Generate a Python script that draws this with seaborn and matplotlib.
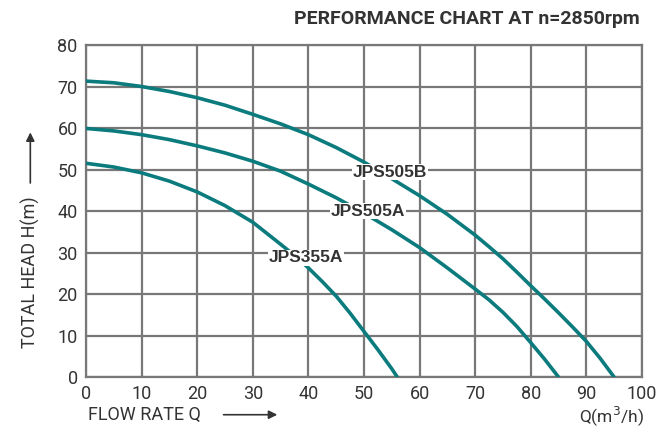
import matplotlib
matplotlib.use("Agg")
from matplotlib import pyplot as plt
import pandas as pd
import seaborn as sns

# values (Q in m3/h, H in m)
q_505b = [0, 5, 10, 15, 20, 25, 30, 35, 40, 45, 50, 55, 60, 65, 70, 72.5, 75,
          77.5, 80, 82.5, 85, 87.5, 90, 92.5, 95]
h_505b = [71.3, 70.9, 70.0, 68.8, 67.3, 65.5, 63.3, 61.0, 58.4, 55.3, 51.8, 47.8, 43.7,
          39.2, 34.2, 31.4, 28.5, 25.3, 22.0, 18.8, 15.5, 12.1, 8.6, 4.5, 0]

q_505a = [0, 5, 10, 15, 20, 25, 30, 35, 40, 45, 50, 55, 60, 65, 70, 72.5, 75,
          77.5, 80, 82.5, 85]
h_505a = [59.9, 59.3, 58.4, 57.2, 55.7, 54.0, 52.0, 49.6, 46.5, 43.2, 39.5, 35.5, 31.2,
          26.3, 21.2, 18.6, 15.6, 12.2, 8.3, 4.3, 0]

q_355a = [0, 5, 10, 15, 20, 25, 30, 35, 37.5, 40, 42.5, 45, 47.5, 50, 52.5, 55, 56]
h_355a = [51.5, 50.6, 49.2, 47.2, 44.6, 41.3, 37.3, 32.0, 29.3, 26.3, 23.0, 19.5,
          15.4, 11.0, 6.6, 2.0, 0]

x_ticks = list(range(0, 101, 10))
y_ticks = list(range(0, 81, 10))

LINE = "#0b7b7d"
GRID = "#787878"
TEXT = "#333333"

sns.set_style("white")
plt.rcParams["font.family"] = ["Roboto", "DejaVu Sans"]

fig = plt.figure(figsize=(6.59, 4.32), dpi=100)
ax = fig.add_axes([0.1305, 0.1273, 0.8435, 0.7685])

curves = [
    ("JPS505B", q_505b, h_505b),
    ("JPS505A", q_505a, h_505a),
    ("JPS355A", q_355a, h_355a),
]
for name, q, h in curves:
    df = pd.DataFrame({"Q": q, "H": h})
    sns.lineplot(data=df, x="Q", y="H", ax=ax, color=LINE, linewidth=2.6,
                 sort=False, zorder=3)

ax.set_xlim(0, 100)
ax.set_ylim(0, 80)
ax.set_xticks(x_ticks)
ax.set_yticks(y_ticks)
ax.grid(True, color=GRID, linewidth=1.6)
ax.set_axisbelow(True)
for s in ax.spines.values():
    s.set_color(GRID)
    s.set_linewidth(1.6)
ax.tick_params(axis="both", length=0, labelsize=13, labelcolor=TEXT, pad=6)
ax.set_xlabel("")
ax.set_ylabel("")

# curve labels with white halo box
labels = [("JPS505B", 54.7, 49.4), ("JPS505A", 50.7, 40.0), ("JPS355A", 39.6, 28.7)]
for name, lx, ly in labels:
    ax.text(lx, ly, name, ha="center", va="center", fontsize=12.5, fontweight="bold",
            color=TEXT, family=["Liberation Sans", "DejaVu Sans"], zorder=4,
            bbox=dict(boxstyle="square,pad=0.05", fc="white", ec="none"))

fig.text(0.971, 0.955, "PERFORMANCE CHART AT n=2850rpm", ha="right", va="center",
         fontsize=14, fontweight="bold", color=TEXT)

# axis titles with arrows
fig.text(0.046, 0.37, "TOTAL HEAD H(m)", rotation=90, ha="center", va="center",
         fontsize=13, color=TEXT)
fig.add_artist(matplotlib.patches.FancyArrowPatch(
    (0.046, 0.57), (0.046, 0.70), transform=fig.transFigure,
    arrowstyle="-|>,head_length=5,head_width=2.5", color=TEXT, linewidth=1.2))
fig.text(0.133, 0.040, "FLOW RATE Q", ha="left", va="center", fontsize=13, color=TEXT)
fig.add_artist(matplotlib.patches.FancyArrowPatch(
    (0.335, 0.040), (0.425, 0.040), transform=fig.transFigure,
    arrowstyle="-|>,head_length=5,head_width=2.5", color=TEXT, linewidth=1.2))
fig.text(0.978, 0.036, "Q(m$^3$/h)", ha="right", va="center", fontsize=12.5, color=TEXT)

fig.savefig("out.png", dpi=100)
